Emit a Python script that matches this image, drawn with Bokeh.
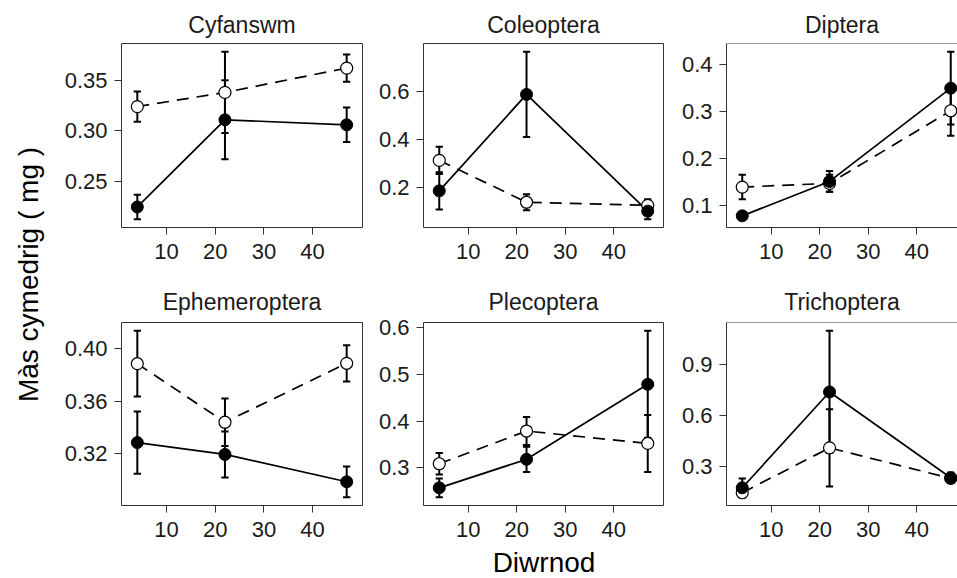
import math
from bokeh.plotting import figure
from bokeh.models import Range1d, FixedTicker, PrintfTickFormatter, Label, Span
from bokeh.layouts import row, column
from bokeh.embed import file_html
from bokeh.resources import INLINE

# ---------------- data ----------------
days = [4, 22, 47]
taxa = ["Cyfanswm", "Coleoptera", "Diptera", "Ephemeroptera", "Plecoptera", "Trichoptera"]

# filled points, solid line
solid_mean = {
    "Cyfanswm":      [0.225, 0.311, 0.306],
    "Coleoptera":    [0.187, 0.586, 0.103],
    "Diptera":       [0.079, 0.152, 0.350],
    "Ephemeroptera": [0.3285, 0.3195, 0.2987],
    "Plecoptera":    [0.257, 0.318, 0.4786],
    "Trichoptera":   [0.177, 0.738, 0.236],
}
solid_se = {
    "Cyfanswm":      [0.012, 0.039, 0.017],
    "Coleoptera":    [0.077, 0.176, 0.033],
    "Diptera":       [0.007, 0.022, 0.077],
    "Ephemeroptera": [0.0236, 0.0175, 0.0117],
    "Plecoptera":    [0.020, 0.027, 0.1145],
    "Trichoptera":   [0.055, 0.358, 0.030],
}
# open points, dashed line
open_mean = {
    "Cyfanswm":      [0.324, 0.338, 0.362],
    "Coleoptera":    [0.313, 0.140, 0.127],
    "Diptera":       [0.140, 0.148, 0.302],
    "Ephemeroptera": [0.3885, 0.344, 0.3888],
    "Plecoptera":    [0.3086, 0.3786, 0.352],
    "Trichoptera":   [0.148, 0.411, 0.232],
}
open_se = {
    "Cyfanswm":      [0.015, 0.040, 0.0135],
    "Coleoptera":    [0.056, 0.033, 0.025],
    "Diptera":       [0.026, 0.018, 0.053],
    "Ephemeroptera": [0.025, 0.018, 0.0138],
    "Plecoptera":    [0.023, 0.030, 0.061],
    "Trichoptera":   [0.025, 0.226, 0.025],
}
x_ticks = [10, 20, 30, 40]
y_ticks = {
    "Cyfanswm":      [0.25, 0.30, 0.35],
    "Coleoptera":    [0.2, 0.4, 0.6],
    "Diptera":       [0.1, 0.2, 0.3, 0.4],
    "Ephemeroptera": [0.32, 0.36, 0.40],
    "Plecoptera":    [0.3, 0.4, 0.5, 0.6],
    "Trichoptera":   [0.3, 0.6, 0.9],
}
y_fmt = {
    "Cyfanswm": "%.2f", "Coleoptera": "%.1f", "Diptera": "%.1f",
    "Ephemeroptera": "%.2f", "Plecoptera": "%.1f", "Trichoptera": "%.1f",
}
y_title = "Màs cymedrig ( mg )"
x_title = "Diwrnod"

# ---------------- style / layout ----------------
FONT = "Liberation Sans"
INK = "#1A1A1A"
EDGE = "#333333"
TICK_FS = "22px"
STRIP_FS = "23px"
TITLE_FS = "28px"
LEFT_W = 50
col_frame_full = [241, 240, 240]
col_frame_vis = [241, 240, 231]
col_left = [71, 59, 61]
col_right = [2, 2, 0]
row_top = [43, 47]
row_frame_h = [184, 183]
row_bottom = [48, 41]
row_title_standoff = [12, 15]
BOTTOM_H = 32
TOTAL_H = 578
CAP = 0.75


def panel(k, name):
    r, c = divmod(k, 3)
    xlo, xhi = min(days) - 1.0, max(days) + 1.0
    xpad = 0.05 * (xhi - xlo)
    x0, x1 = xlo - xpad, xhi + xpad
    x1 = x0 + (x1 - x0) * col_frame_vis[c] / col_frame_full[c]

    lows = [m - s for m, s in zip(solid_mean[name], solid_se[name])] + \
           [m - s for m, s in zip(open_mean[name], open_se[name])]
    highs = [m + s for m, s in zip(solid_mean[name], solid_se[name])] + \
            [m + s for m, s in zip(open_mean[name], open_se[name])]
    ylo, yhi = min(lows), max(highs)
    ypad = 0.05 * (yhi - ylo)

    p = figure(frame_width=col_frame_vis[c], frame_height=row_frame_h[r],
               x_range=Range1d(x0, x1), y_range=Range1d(ylo - ypad, yhi + ypad),
               min_border_left=col_left[c], min_border_right=col_right[c],
               min_border_top=row_top[r], min_border_bottom=row_bottom[r],
               output_backend="svg", toolbar_location=None, title=name)
    p.background_fill_color = "white"
    p.border_fill_color = "white"
    p.xgrid.visible = False
    p.ygrid.visible = False
    p.title.align = "center"
    p.title.text_font = FONT
    p.title.text_font_size = STRIP_FS
    p.title.text_font_style = "normal"
    p.title.text_color = INK
    p.title.standoff = row_title_standoff[r]

    p.xaxis.ticker = FixedTicker(ticks=x_ticks)
    p.xaxis.formatter = PrintfTickFormatter(format="%d")
    p.yaxis.ticker = FixedTicker(ticks=y_ticks[name])
    p.yaxis.formatter = PrintfTickFormatter(format=y_fmt[name])
    for ax in (p.xaxis, p.yaxis):
        ax.major_label_text_font = FONT
        ax.major_label_text_font_size = TICK_FS
        ax.major_label_text_color = INK
        ax.major_tick_in = 0
        ax.major_tick_out = 7
        ax.major_tick_line_color = EDGE
        ax.major_tick_line_width = 1
        ax.minor_tick_line_color = None
    p.xaxis.major_label_standoff = 9
    p.yaxis.major_label_standoff = 7

    if c < 2:
        p.outline_line_color = EDGE
        p.outline_line_width = 1
        p.outline_line_alpha = 1
        p.xaxis.axis_line_color = None
        p.yaxis.axis_line_color = None
    else:
        p.outline_line_color = None
        p.xaxis.axis_line_color = EDGE
        p.yaxis.axis_line_color = EDGE
        p.add_layout(Span(location=yhi + ypad, dimension="width",
                          line_color=EDGE, line_width=1))

    # lines
    p.line(days, open_mean[name], line_color="black", line_width=1.7, line_dash="12 8")
    p.line(days, solid_mean[name], line_color="black", line_width=1.7)

    # error bars
    for means, ses in ((open_mean[name], open_se[name]), (solid_mean[name], solid_se[name])):
        lo = [m - s for m, s in zip(means, ses)]
        hi = [m + s for m, s in zip(means, ses)]
        p.segment(x0=days, y0=lo, x1=days, y1=hi, line_color="black", line_width=2)
        left = [d - CAP for d in days]
        right = [d + CAP for d in days]
        p.segment(x0=left, y0=lo, x1=right, y1=lo, line_color="black", line_width=2)
        p.segment(x0=left, y0=hi, x1=right, y1=hi, line_color="black", line_width=2)

    # points
    p.scatter(days, open_mean[name], size=12, fill_color="white",
              line_color="black", line_width=1.2)
    p.scatter(days, solid_mean[name], size=12, fill_color="black",
              line_color="black", line_width=1)
    return p


panels = [panel(k, n) for k, n in enumerate(taxa)]

# left title strip
grid_w = sum(col_left[i] + col_frame_vis[i] + col_right[i] for i in range(3))
left = figure(frame_width=LEFT_W, frame_height=TOTAL_H, x_range=Range1d(0, LEFT_W),
              y_range=Range1d(0, TOTAL_H), min_border=0, title=None,
              x_axis_location=None, y_axis_location=None,
              output_backend="svg", toolbar_location=None)
left.outline_line_color = None
left.xgrid.visible = False
left.ygrid.visible = False
frame_top = row_top[0]
frame_bot = TOTAL_H - BOTTOM_H - row_bottom[1]
left.add_layout(Label(x=28, y=TOTAL_H - (frame_top + frame_bot) / 2, text=y_title,
                      angle=math.pi / 2, text_align="center", text_baseline="middle",
                      text_font=FONT, text_font_size=TITLE_FS, text_color="black"))

bottom = figure(frame_width=grid_w, frame_height=BOTTOM_H, x_range=Range1d(0, grid_w),
                y_range=Range1d(0, BOTTOM_H), min_border=0, title=None,
                x_axis_location=None, y_axis_location=None,
                output_backend="svg", toolbar_location=None)
bottom.outline_line_color = None
bottom.xgrid.visible = False
bottom.ygrid.visible = False
mid_x = col_left[0] + (col_frame_full[0] + col_right[0] + col_left[1] + col_frame_full[1]
                       + col_right[1] + col_left[2] + col_frame_full[2]) / 2
bottom.add_layout(Label(x=mid_x, y=BOTTOM_H / 2, text=x_title, text_align="center",
                        text_baseline="middle", text_font=FONT,
                        text_font_size=TITLE_FS, text_color="black"))

layout = row(left, column(row(*panels[:3]), row(*panels[3:]), bottom))

with open("out.html", "w") as f:
    f.write(file_html(layout, INLINE))
